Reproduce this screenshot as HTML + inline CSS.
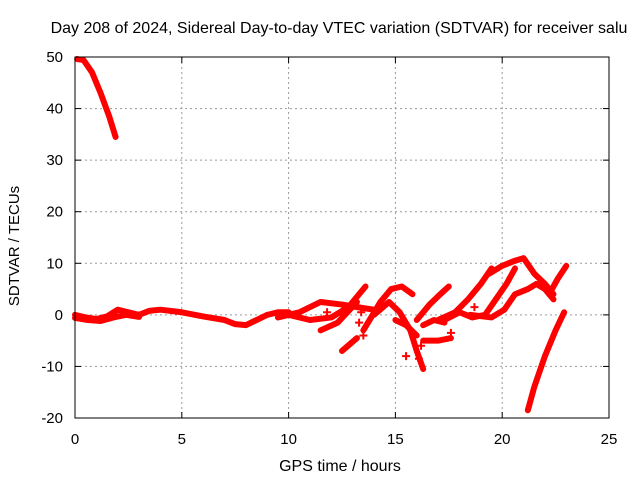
<!DOCTYPE html>
<html><head><meta charset="utf-8"><style>
body{margin:0;background:#fff}
svg{display:block;font-family:"Liberation Sans",sans-serif;font-size:15px}
</style></head><body>
<svg id="chart" width="640" height="480">
<text x="339" y="33" text-anchor="middle" style="font-size:16px">Day 208 of 2024, Sidereal Day-to-day VTEC variation (SDTVAR) for receiver salu</text>
<text x="340" y="471" text-anchor="middle" style="font-size:16px">GPS time / hours</text>
<text transform="translate(19,246) rotate(-90)" text-anchor="middle">SDTVAR / TECUs</text>
<g id="grid"></g>
<g id="ticks"></g>
<g id="marks"></g>
<rect x="75" y="57" width="534" height="361" fill="none" stroke="#000" stroke-width="1"/>
</svg>
<script>
const xTicks=[0,5,10,15,20,25];
const yTicks=[-20,-10,0,10,20,30,40,50];
const arcTop=[[0.1,49.6],[0.4,49.4],[0.8,47],[1.2,43],[1.6,38.5],[1.9,34.5]];
const arcBase=[[0,0],[0.5,-0.5],[1,-0.8],[1.5,-0.3],[2,1],[2.5,0.5],[3,0],[3.5,0.8],[4,1],[5,0.5],[6,-0.3],[7,-1],[7.5,-1.8],[8,-2],[8.5,-1],[9,0],[9.5,0.5],[10,0.5]];
const arcBase2=[[0,-0.6],[0.6,-1],[1.2,-1.2],[1.8,-0.5],[2.4,0],[3,-0.4]];
const arcs=[arcTop,arcBase,arcBase2,
[[9.5,-0.5],[10.5,0.5],[11.5,2.5],[12.5,2],[13.2,1.5],[14,1]],
[[10,0],[11,-1],[12,-0.5],[12.8,1.5],[13.6,5.5]],
[[11.5,-3],[12.3,-1.5],[13.2,2.5]],
[[12.5,-7],[13.2,-4.5]],
[[13.5,-3],[14.3,2.5],[14.8,5],[15.3,5.5],[15.8,4]],
[[14,0],[14.7,2.5],[15.2,0.5],[15.7,-3],[16,-7],[16.3,-10.5]],
[[15,-1],[15.5,-2],[16,-4]],
[[16.3,-2],[16.8,-1],[17.3,-1.5]],
[[16.3,-5],[17,-5],[17.6,-4.5]],
[[16,-1],[16.6,2],[17.1,4],[17.5,5.5]],
[[17,-1],[17.8,0.5],[18.4,3],[19,6],[19.5,9]],
[[17.3,-1],[18,0.5],[18.6,-0.5],[19.2,0],[19.7,3],[20.2,6],[20.6,9]],
[[18.5,0],[19.5,-0.5],[20.1,1],[20.6,4],[21.2,5],[21.6,6],[22,5],[22.4,3]],
[[19.4,8],[20,9.5],[20.6,10.5],[21,11],[21.5,8],[22,6],[22.4,4]],
[[22.2,4],[22.6,7],[23,9.5]],
[[21.2,-18.5],[21.5,-14],[22,-8],[22.5,-3],[22.9,0.5]]];
const crosses=[[13.3,-1.5],[13.5,-4],[13.4,0.5],[15.5,-8],[16.1,-8.5],[16.2,-6],[17.6,-3.5],[18.7,1.5],[11.8,0.5]];
const X=h=>75+h*534/25, Y=v=>57+(50-v)*361/70;
const NS="http://www.w3.org/2000/svg";
const grid=document.getElementById('grid'),ticks=document.getElementById('ticks'),marks=document.getElementById('marks');
function mk(t,a,p){const e=document.createElementNS(NS,t);for(const k in a)e.setAttribute(k,a[k]);p.appendChild(e);return e;}
xTicks.forEach(t=>{const x=X(t);
 if(t>0&&t<25){const g=mk('line',{x1:x,x2:x,y1:57,y2:418,stroke:'#999','stroke-dasharray':'2,3'},grid);
 
 }
 mk('line',{x1:x,x2:x,y1:418,y2:412,stroke:'#000'},ticks);mk('line',{x1:x,x2:x,y1:57,y2:63,stroke:'#000'},ticks);
 const l=mk('text',{x:x,y:444,'text-anchor':'middle'},ticks);l.textContent=t;
 
 });
yTicks.forEach(t=>{const y=Y(t);
 if(t>-20&&t<50){const g=mk('line',{x1:75,x2:609,y1:y,y2:y,stroke:'#999','stroke-dasharray':'2,3'},grid);
 
 }
 mk('line',{x1:75,x2:81,y1:y,y2:y,stroke:'#000'},ticks);mk('line',{x1:609,x2:603,y1:y,y2:y,stroke:'#000'},ticks);
 const l=mk('text',{x:63,y:y+5,'text-anchor':'end'},ticks);l.textContent=t;
 
 });
arcs.forEach(a=>{const p=mk('polyline',{points:a.map(d=>X(d[0])+','+Y(d[1])).join(' '),fill:'none',stroke:'#f00','stroke-width':6,'stroke-linejoin':'round','stroke-linecap':'round'},marks);
 
 });
crosses.forEach(c=>{const x=X(c[0]),y=Y(c[1]);
 const p=mk('path',{d:`M${x-4},${y}H${x+4}M${x},${y-4}V${y+4}`,stroke:'#f00','stroke-width':2},marks);
 
 });
</script>
</body></html>
